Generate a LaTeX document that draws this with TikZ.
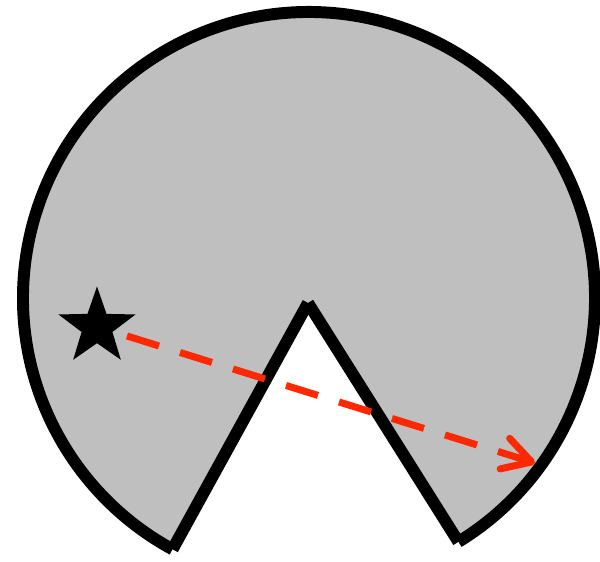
\documentclass[tikz,border=0pt]{standalone}
\usepackage{tikz}
\usetikzlibrary{shapes.geometric, arrows.meta, positioning, calc}
\definecolor{pacgray}{RGB}{191, 191, 191}
\definecolor{rayred}{RGB}{255, 40, 0}
\tikzset{
  rim/.style={line width=6.8pt, line cap=butt, draw=black},
  source/.style={star, star points=5, star point ratio=2.5, fill=black,
                 minimum size=1.62cm, inner sep=0pt},
  ray/.style={-{Straight Barb[round, length=0.56cm, width=0.64cm]}, line width=4pt,
              color=rayred, dash pattern=on 0.67cm off 0.44cm},
}
\begin{document}
\begin{tikzpicture}
  \useasboundingbox (0,0) rectangle (12,11.24);
  % disc with the wedge cut out
  \coordinate (c) at (6.18,5.28);
  \coordinate (apex) at (6.16,5.18);
  \coordinate (left) at ($(c)+(241.5:5.72)$);
  \coordinate (right) at ($(c)+(-58.5:5.72)$);
  \fill[pacgray] (right) arc[start angle=-58.5, end angle=241.5, radius=5.72]
       -- (apex) -- cycle;
  \draw[rim] (right) arc[start angle=-58.5, end angle=241.5, radius=5.72];
  \draw[rim] (left) -- (apex);
  \draw[rim] (apex) -- (right);
  % source and ray
  \node[source] (src) at (1.94,4.70) {};
  \coordinate (start) at (2.54,4.52);
  \coordinate (hit) at (10.70,1.98);
  \draw[ray] (start) -- (hit);
\end{tikzpicture}
\end{document}
